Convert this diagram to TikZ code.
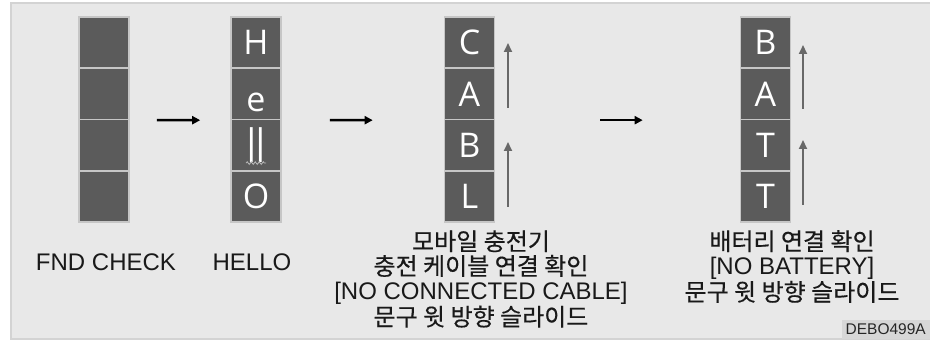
\documentclass[tikz,border=0pt]{standalone}
\usepackage{fontspec}
\setmainfont{Liberation Sans}
\newfontfamily\krfont{Noto Sans CJK KR}[FakeBold=0.4]
\newfontfamily\segfont{Open Sans}
\usetikzlibrary{arrows.meta,decorations.pathmorphing}
\definecolor{panel}{HTML}{E8E8E8}
\definecolor{rim}{HTML}{D3D3D3}
\definecolor{segdark}{HTML}{5B5B5B}
\definecolor{seggrid}{HTML}{C6C6C6}
\definecolor{slidegray}{HTML}{686868}
\definecolor{tagfill}{HTML}{D7D7D7}

\begin{document}
\begin{tikzpicture}[x=1pt,y=-1pt,
  cell/.style={draw=seggrid, line width=1.6pt, fill=segdark,
    minimum width=50pt, minimum height=51pt, inner sep=0pt, text=white,
    font=\segfont\fontsize{34}{34}\selectfont, text height=24.5pt, text depth=0pt},
  flow/.style={-{Triangle[length=8pt,width=8pt]}, line width=2.6pt},
  slide/.style={-{Triangle[length=9pt,width=8pt]}, line width=2pt, draw=slidegray, color=slidegray},
  caption/.style={align=center, inner sep=0pt, text=black!90, font=\fontsize{24}{24.7}\selectfont},
  tag/.style={fill=tagfill, inner xsep=4pt, inner ysep=2pt, minimum height=19pt,
    font=\fontsize{15.5}{16}\selectfont, text=black!85}]
\useasboundingbox (0,0) rectangle (930,342);
% background
\fill[white] (0,0) rectangle (930,342);
\draw[rim, fill=panel, line width=2.5pt] (11,3) rectangle (936,339);

% FND CHECK
\foreach \i in {1,...,4}
  \node[cell] (f\i) at (104,{17+51.25*(\i-0.5)}) {};
\node[caption] (fndcap) at (106,262) {FND CHECK};

% HELLO
\node[cell] (h1) at (256,42.6) {H};
\node[cell, text height=35pt] (h2) at (256,93.9) {e};
\node[cell, text height=34pt] (h3) at (256,145.1) {\scalebox{1}[1.35]{ll}};
\node[cell] (h4) at (256,196.4) {O};
\draw[seggrid!80!gray, line width=0.8pt, decorate,
  decoration={snake, amplitude=1.3pt, segment length=4pt}]
  ([shift={(-10,18)}]h3.center) -- ([shift={(10,18)}]h3.center);
\node[caption] (hellocap) at (252,262) {HELLO};

% CABLE
\foreach \ch [count=\i] in {C,A,B,L}
  \node[cell] (c\i) at (469.5,{17+51.25*(\i-0.5)}) {\ch};
\draw[slide] (508,108) -- (508,43);
\draw[slide] (508,207) -- (508,142);
\node[caption] (cablecap) at (481,279) {{\krfont 모바일 충전기}\\
  {\krfont 충전 케이블 연결 확인}\\
  {[NO CONNECTED CABLE]}\\
  {\krfont 문구 윗 방향 슬라이드}};

% BATT
\foreach \ch [count=\i] in {B,A,T,T}
  \node[cell] (b\i) at (765.5,{17+51.25*(\i-0.5)}) {\ch};
\draw[slide] (803,109) -- (803,45);
\draw[slide] (803,205) -- (803,140);
\node[caption] (battcap) at (792,266.5) {{\krfont 배터리 연결 확인}\\
  {[NO BATTERY]}\\
  {\krfont 문구 윗 방향 슬라이드}};

% sequence
\draw[flow, shorten <=27pt, shorten >=30pt] (f2.south east) -- (h2.south west);
\draw[flow, shorten <=48pt, shorten >=71pt] (h2.south east) -- (c2.south west);
\draw[flow, shorten <=105pt, shorten >=97pt] (c2.south east) -- (b2.south west);

\node[tag, anchor=south east] (code) at (930,339) {DEBO499A};
\end{tikzpicture}
\end{document}
